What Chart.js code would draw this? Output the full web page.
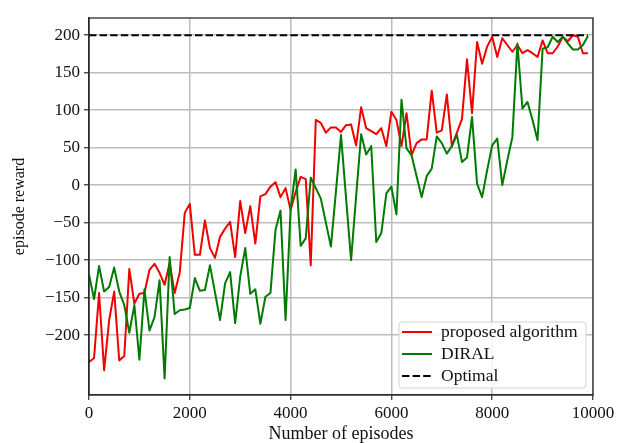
<!DOCTYPE html>
<html>
<head>
<meta charset="utf-8">
<script src="https://cdn.jsdelivr.net/npm/chart.js@4/dist/chart.umd.min.js"></script>
<style>
  html, body { margin: 0; padding: 0; background: #ffffff; }
  #wrap { width: 619px; height: 443px; }
</style>
</head>
<body>
<div id="wrap"><canvas id="c" width="619" height="443"></canvas></div>
<script>
// ---- data ----
const episodes = [0,100,200,300,400,500,600,700,800,900,1000,1100,1200,1300,1400,1500,1600,1700,1800,1900,
  2000,2100,2200,2300,2400,2500,2600,2700,2800,2900,3000,3100,3200,3300,3400,3500,3600,3700,3800,3900,
  4000,4100,4200,4300,4400,4500,4600,4700,4800,4900,5000,5100,5200,5300,5400,5500,5600,5700,5800,5900,
  6000,6100,6200,6300,6400,6500,6600,6700,6800,6900,7000,7100,7200,7300,7400,7500,7600,7700,7800,7900,
  8000,8100,8200,8300,8400,8500,8600,8700,8800,8900,9000,9100,9200,9300,9400,9500,9600,9700,9800,9900];

const proposedReward = [-236,-231,-144,-247,-180,-142,-234,-228,-112,-158,
  -145,-144,-113,-105,-117,-133,-104,-144,-117,-37,
  -25,-93,-93,-47,-84,-97,-69,-58,-49,-96,
  -21,-64,-28,-78,-15,-12,-2,4,-16,-4,
  -33,-9,11,8,-107,87,83,70,77,77,
  71,80,81,53,104,76,72,68,76,52,
  98,87,52,96,40,56,61,61,126,70,
  73,121,52,70,88,168,96,191,162,185,
  198,171,196,187,178,187,176,180,176,171,
  193,176,176,185,198,192,200,198,176,176];

const diralReward = [-119,-152,-108,-142,-136,-110,-142,-160,-197,-160,
  -233,-139,-194,-176,-127,-258,-96,-172,-167,-166,
  -164,-124,-141,-140,-107,-143,-180,-131,-116,-184,
  -122,-84,-145,-139,-185,-149,-144,-60,-34,-180,
  -33,21,-81,-71,10,-4,-18,-50,-82,-8,
  67,-17,-100,-15,68,41,52,-76,-64,-11,
  -2,-39,114,49,40,12,-16,12,22,65,
  56,42,52,67,31,37,91,2,-16,20,
  53,62,0,33,64,189,102,111,87,60,
  182,184,198,191,198,189,181,181,187,199];

const optimalEpisodes = [0, 9900];
const optimalReward = [200, 200];

const xTicks = [0, 2000, 4000, 6000, 8000, 10000];
const yTicks = [-200, -150, -100, -50, 0, 50, 100, 150, 200];

const seriesNames = ['proposed algorithm', 'DIRAL', 'Optimal'];

// ---- build datasets ----
const toPts = (xs, ys) => xs.map((x, i) => ({ x: x, y: ys[i] }));

const FONT = "'Liberation Serif', 'Times New Roman', serif";
const AXIS = '#2b2b2b';
const GRID = '#bdbdbd';

const frameAndLegend = {
  id: 'frameAndLegend',
  afterDraw(chart) {
    const { ctx, chartArea: a } = chart;
    ctx.save();
    // frame
    ctx.strokeStyle = AXIS;
    ctx.lineWidth = 1.3;
    ctx.strokeRect(a.left, a.top, a.right - a.left, a.bottom - a.top);

    // legend box (lower right)
    const bx = 399, by = 322, bw = 187, bh = 66;
    ctx.fillStyle = 'rgba(255,255,255,0.85)';
    ctx.strokeStyle = '#d2d2d2';
    ctx.lineWidth = 1;
    const r = 3;
    ctx.beginPath();
    ctx.moveTo(bx + r, by);
    ctx.lineTo(bx + bw - r, by); ctx.quadraticCurveTo(bx + bw, by, bx + bw, by + r);
    ctx.lineTo(bx + bw, by + bh - r); ctx.quadraticCurveTo(bx + bw, by + bh, bx + bw - r, by + bh);
    ctx.lineTo(bx + r, by + bh); ctx.quadraticCurveTo(bx, by + bh, bx, by + bh - r);
    ctx.lineTo(bx, by + r); ctx.quadraticCurveTo(bx, by, bx + r, by);
    ctx.closePath();
    ctx.fill(); ctx.stroke();

    const rows = [332, 354, 376];
    chart.data.datasets.forEach((ds, i) => {
      const y = rows[i];
      ctx.beginPath();
      ctx.strokeStyle = ds.borderColor;
      ctx.lineWidth = 2;
      ctx.setLineDash(ds.borderDash || []);
      ctx.moveTo(402, y);
      ctx.lineTo(432, y);
      ctx.stroke();
      ctx.setLineDash([]);
      ctx.fillStyle = '#111';
      ctx.font = "17.5px " + FONT;
      ctx.textBaseline = 'middle';
      ctx.textAlign = 'left';
      ctx.fillText(ds.label, 441, y);
    });
    ctx.restore();
  }
};

new Chart(document.getElementById('c'), {
  type: 'line',
  data: {
    datasets: [
      { label: seriesNames[0], data: toPts(episodes, proposedReward), borderColor: '#f20000',
        borderWidth: 2, pointRadius: 0, tension: 0, fill: false, order: 2, borderJoinStyle: 'round' },
      { label: seriesNames[1], data: toPts(episodes, diralReward), borderColor: '#007a00',
        borderWidth: 2, pointRadius: 0, tension: 0, fill: false, order: 1, borderJoinStyle: 'round' },
      { label: seriesNames[2], data: toPts(optimalEpisodes, optimalReward), borderColor: '#000000',
        borderWidth: 2, borderDash: [7.4, 3.2], pointRadius: 0, tension: 0, fill: false, order: 0 }
    ]
  },
  options: {
    responsive: false,
    animation: false,
    events: [],
    layout: { padding: { left: 0, top: 18, right: 26, bottom: 0 } },
    plugins: { legend: { display: false }, tooltip: { enabled: false } },
    scales: {
      x: {
        type: 'linear',
        min: 0, max: 10000,
        afterBuildTicks: (s) => { s.ticks = xTicks.map(v => ({ value: v })); },
        afterFit: (s) => { s.height = 48; },
        grid: { color: GRID, lineWidth: 1.5, tickLength: 5, tickColor: AXIS, tickWidth: 1.2 },
        border: { display: true, color: AXIS, width: 1.3 },
        ticks: { color: '#111', font: { family: FONT, size: 17 }, padding: 3, maxRotation: 0,
                 callback: (v) => String(v) },
        title: { display: true, text: 'Number of episodes', color: '#111',
                 font: { family: FONT, size: 18, lineHeight: 1 }, padding: { top: 0, bottom: 0 } }
      },
      y: {
        type: 'linear',
        min: -280, max: 223,
        afterBuildTicks: (s) => { s.ticks = yTicks.map(v => ({ value: v })); },
        afterFit: (s) => { s.width = 89; },
        grid: { color: GRID, lineWidth: 1.5, tickLength: 5, tickColor: AXIS, tickWidth: 1.2 },
        border: { display: true, color: AXIS, width: 1.3 },
        ticks: { color: '#111', font: { family: FONT, size: 17 }, padding: 4,
                 callback: (v) => String(v).replace('-', '\u2212') },
        title: { display: true, text: 'episode reward', color: '#111',
                 font: { family: FONT, size: 16, lineHeight: 1.2 }, padding: { top: 10, bottom: 0 } }
      }
    }
  },
  plugins: [frameAndLegend]
});
</script>
</body>
</html>
